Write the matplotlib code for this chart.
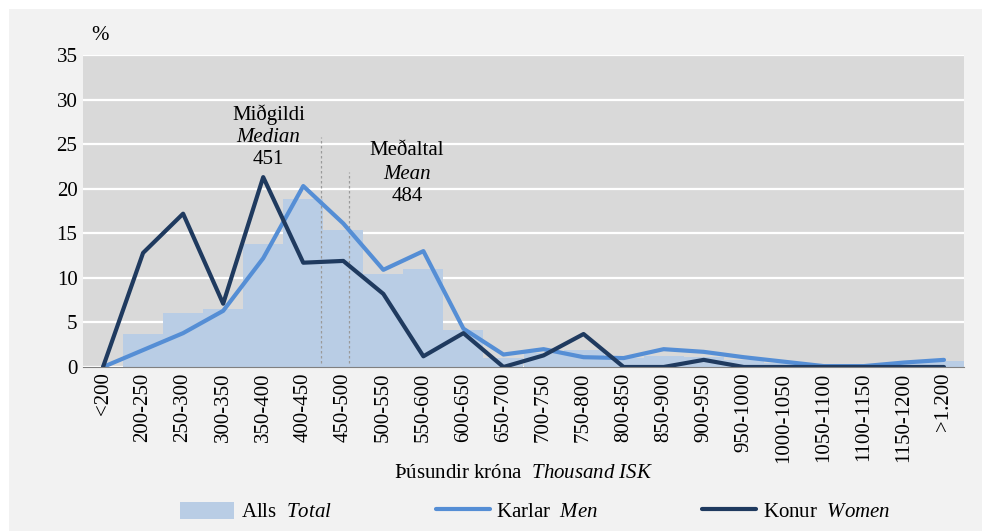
# plot.py
# 월급 분포 그래프 (Alls / Karlar / Konur) 다시 그리기

import matplotlib as mpl
mpl.use('Agg')
import matplotlib.pyplot as plt
from matplotlib.patches import Rectangle

# 데이터 : 그림에서 읽은 값 (%)
categories = ['<200', '200-250', '250-300', '300-350', '350-400', '400-450',
              '450-500', '500-550', '550-600', '600-650', '650-700', '700-750',
              '750-800', '800-850', '850-900', '900-950', '950-1000', '1000-1050',
              '1050-1100', '1100-1150', '1150-1200', '>1.200']
total = [0, 3.7, 6.1, 6.5, 13.8, 18.9, 15.4, 10.4, 11.0, 4.2, 1.0, 1.6,
         1.9, 1.0, 1.2, 1.1, 0.8, 0.5, 0.2, 0.2, 0.4, 0.7]
men = [0, 1.9, 3.8, 6.3, 12.2, 20.3, 16.1, 10.9, 13.0, 4.3, 1.4, 2.0,
       1.1, 1.0, 2.0, 1.7, 1.1, 0.6, 0.1, 0.1, 0.5, 0.8]
women = [0, 12.8, 17.2, 7.1, 21.3, 11.7, 11.9, 8.2, 1.2, 3.8, 0, 1.3,
         3.7, 0, 0, 0.8, 0, 0, 0, 0, 0, 0]
yticks = [0, 5, 10, 15, 20, 25, 30, 35]
median_pos, median_val = 5.44, 451
mean_pos, mean_val = 6.15, 484

# 색상
c_total = '#b9cde5'
c_men = '#558ed5'
c_women = '#1f3a5f'

# 글꼴 : Times 비슷한 세리프 글꼴 사용
mpl.rc('font', family='Liberation Serif', size=15)
mpl.rcParams['mathtext.fontset'] = 'custom'
mpl.rcParams['mathtext.rm'] = 'Liberation Serif'
mpl.rcParams['mathtext.it'] = 'Liberation Serif:italic'


def draw_chart():
    fig = plt.figure(figsize=(9.82, 5.31), dpi=100)
    fig.patch.set_facecolor('white')
    # 바깥 회색 배경 (위, 왼쪽에 흰 여백)
    fig.patches.append(Rectangle((9 / 982, 0), 1, 1 - 9 / 531, transform=fig.transFigure,
                                 facecolor='#f2f2f2', edgecolor='none', zorder=-10))

    ax = fig.add_axes([83 / 982, 1 - 367 / 531, (964 - 83) / 982, (367 - 55) / 531])
    ax.set_facecolor('#d9d9d9')

    x = list(range(len(categories)))
    bars = ax.bar(x, total, width=1.0, color=c_total, zorder=2)
    l_men, = ax.plot(x, men, color=c_men, lw=3, zorder=4, solid_capstyle='round')
    l_women, = ax.plot(x, women, color=c_women, lw=3, zorder=5, solid_capstyle='round')

    # 중앙값, 평균 점선
    ax.vlines(median_pos, 0.5, 25.8, colors='#9a9a9a', linestyles=(0, (2, 2)), lw=0.9, zorder=3)
    ax.vlines(mean_pos, 0.5, 21.9, colors='#9a9a9a', linestyles=(0, (2, 2)), lw=0.9, zorder=3)
    ax.text(4.13, 28.3, 'Miðgildi', ha='center', va='center')
    ax.text(4.13, 25.8, 'Median', ha='center', va='center', style='italic')
    ax.text(4.13, 23.3, str(median_val), ha='center', va='center')
    ax.text(7.59, 24.3, 'Meðaltal', ha='center', va='center')
    ax.text(7.59, 21.65, 'Mean', ha='center', va='center', style='italic')
    ax.text(7.59, 19.1, str(mean_val), ha='center', va='center')

    # 축 설정
    ax.set_xlim(-0.5, len(categories) - 0.5)
    ax.set_ylim(0, 35)
    ax.set_yticks(yticks)
    ax.set_xticks(x)
    ax.set_xticklabels(categories, rotation=90, va='top')
    ax.tick_params(length=0, pad=4)
    ax.grid(axis='y', color='white', lw=1.6, zorder=1)
    ax.set_axisbelow(True)
    for s in ['top', 'right', 'left']:
        ax.spines[s].set_visible(False)
    ax.spines['bottom'].set_color('#808080')
    ax.spines['bottom'].set_zorder(6)

    ax.set_xlabel('Þúsundir króna  $\\mathit{Thousand\\ ISK}$')
    ax.xaxis.set_label_coords(0.5, -0.31)
    fig.text(100 / 982, 1 - 35 / 531, '%', ha='center', va='center')

    # 범례 : 막대, 남자, 여자 순서
    fig.legend([bars, l_men, l_women],
               ['Alls  $\\mathit{Total}$', 'Karlar  $\\mathit{Men}$', 'Konur  $\\mathit{Women}$'],
               loc='center', bbox_to_anchor=(0.545, 1 - 512 / 531), ncol=3,
               frameon=False, handlelength=2.6, handletextpad=0.3, columnspacing=5.0,
               handleheight=0.9)

    fig.savefig('out.png', dpi=100, facecolor=fig.get_facecolor())


if __name__ == '__main__':
    draw_chart()
